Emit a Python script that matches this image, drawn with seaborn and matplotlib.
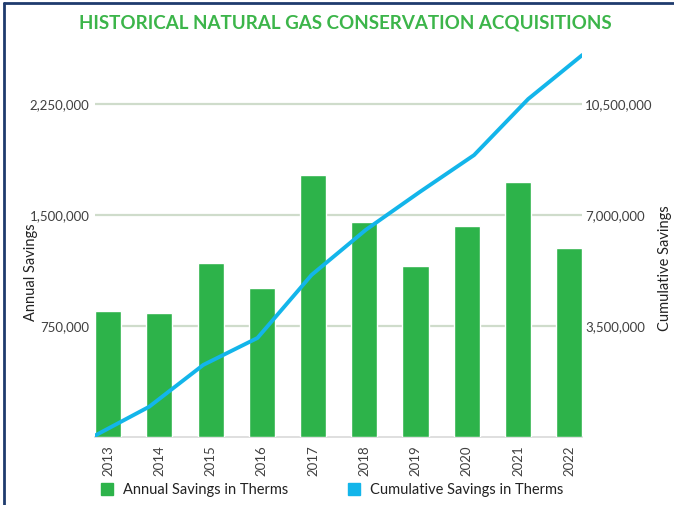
import pandas as pd
import seaborn as sns
import matplotlib.pyplot as plt
from matplotlib.lines import Line2D
from matplotlib.ticker import FuncFormatter

years = [2013, 2014, 2015, 2016, 2017, 2018, 2019, 2020, 2021, 2022]
annual_savings = [850000, 840000, 1175000, 1005000, 1770000, 1455000, 1155000, 1425000, 1725000, 1280000]
cumulative_savings = [40000, 950000, 2270000, 3120000, 5110000, 6530000, 7730000, 8890000, 10660000, 12050000]
left_ticks = [750000, 1500000, 2250000]
right_ticks = [3500000, 7000000, 10500000]

bar_color = "#2db34a"
line_color = "#13b5ea"
grid_color = "#cfdccb"
text_color = "#404040"

df = pd.DataFrame({"year": [str(y) for y in years],
                   "annual": annual_savings,
                   "cumulative": cumulative_savings,
                   "yr": years})

sns.set_style("white")
plt.rcParams["font.family"] = ["Lato", "DejaVu Sans"]

fig = plt.figure(figsize=(6.74, 5.05), dpi=100)
ax = fig.add_axes([0.141, 0.135, 0.723, 0.776])

# barres annuelles
sns.barplot(data=df, x="year", y="annual", color=bar_color, width=0.51,
            saturation=1, ax=ax, zorder=3)
ax.set_xlim(-0.255, 9.255)
ax.set_ylim(0, 2650000)
ax.set_yticks(left_ticks)
ax.yaxis.set_major_formatter(FuncFormatter(lambda v, p: f"{int(v):,}"))
ax.grid(axis="y", color=grid_color, linewidth=1.6, zorder=0)
ax.set_axisbelow(True)
for s in ["top", "right", "left"]:
    ax.spines[s].set_visible(False)
ax.spines["bottom"].set_color("#d9d9d9")
ax.spines["bottom"].set_linewidth(1.2)
ax.tick_params(axis="x", rotation=90, labelsize=9.5, colors=text_color, length=0, pad=6)
ax.tick_params(axis="y", labelsize=9.5, colors=text_color, length=0, pad=4)
ax.set_xlabel("")
ax.set_ylabel("Annual Savings", fontsize=10.5, color="#222222")
ax.yaxis.set_label_coords(-0.118, 0.42)

# axe secondaire : cumul
ax2 = ax.twinx()
ax2.set_ylim(0, 2650000 * 3500000 / 750000)
ax2.set_yticks(right_ticks)
ax2.yaxis.set_major_formatter(FuncFormatter(lambda v, p: f"{int(v):,}"))
ax2.tick_params(axis="y", labelsize=9.5, colors=text_color, length=0, pad=2)
ax2.set_ylabel("Cumulative Savings", fontsize=10.5, color="#222222")
ax2.yaxis.set_label_coords(1.155, 0.43)
for s in ax2.spines.values():
    s.set_visible(False)

ax3 = ax2.twiny()
sns.lineplot(data=df, x="yr", y="cumulative", color=line_color, linewidth=2.8,
             ax=ax3, zorder=4)
ax3.set_xlim(years[0], years[-1])
ax3.set_xticks([])
ax3.set_xlabel("")
ax3.set_ylabel("")
for s in ax3.spines.values():
    s.set_visible(False)

fig.text(0.513, 0.955, "HISTORICAL NATURAL GAS CONSERVATION ACQUISITIONS",
         ha="center", va="center", fontsize=13.5, fontweight="bold", color="#3cb54a")

handles = [Line2D([], [], marker="s", linestyle="", markersize=8, color=bar_color),
           Line2D([], [], marker="s", linestyle="", markersize=8, color=line_color)]
fig.legend(handles, ["Annual Savings in Therms", "Cumulative Savings in Therms"],
           loc="center", bbox_to_anchor=(0.493, 0.03), ncol=2, frameon=False,
           fontsize=10.5, columnspacing=4.1, handlelength=0.8, handletextpad=0.7,
           labelcolor="#222222")

fig.add_artist(Line2D([0.006, 0.006], [0, 0.994], transform=fig.transFigure,
                      color="#1f3b6e", linewidth=2))
fig.add_artist(Line2D([0.006, 1], [0.994, 0.994], transform=fig.transFigure,
                      color="#1f3b6e", linewidth=2))

fig.savefig("out.png", dpi=100)
